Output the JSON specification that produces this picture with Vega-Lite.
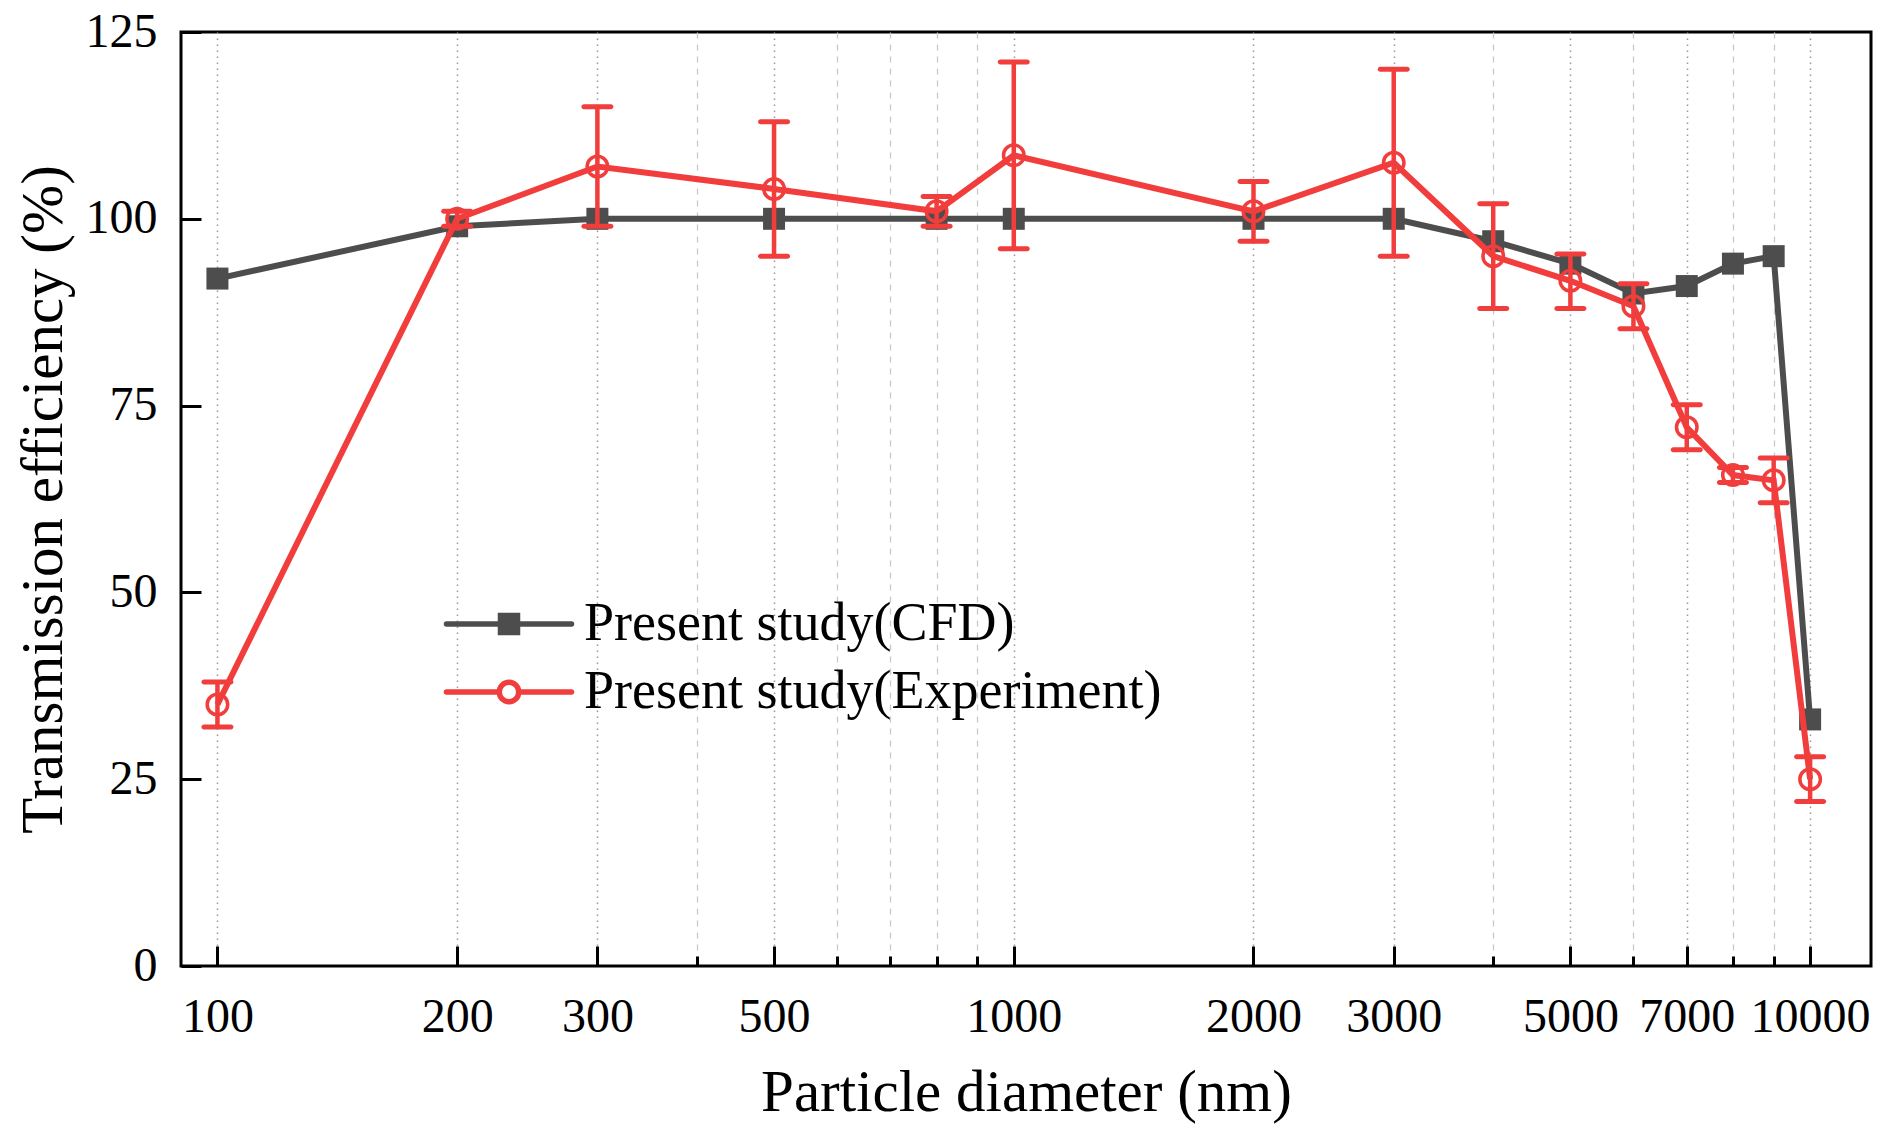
{
  "$schema": "https://vega.github.io/schema/vega-lite/v6.json",
  "width": 1690,
  "height": 934,
  "autosize": {"type": "none"},
  "padding": {"left": 181, "top": 32, "right": 21, "bottom": 176},
  "background": "white",
  "config": {
    "view": {"stroke": "black", "strokeWidth": 3},
    "font": "Liberation Serif",
    "axis": {
      "grid": false,
      "domain": false,
      "tickColor": "black",
      "tickWidth": 3,
      "labelColor": "black",
      "titleColor": "black",
      "labelFont": "Liberation Serif",
      "titleFont": "Liberation Serif",
      "labelFontSize": 48,
      "titleFontSize": 59,
      "titleFontWeight": "normal",
      "labelFlush": false,
      "labelOverlap": false
    }
  },
  "data": {
    "values": [
      {"d": 100, "series": "Present study(CFD)", "value": 92},
      {"d": 200, "series": "Present study(CFD)", "value": 99},
      {"d": 300, "series": "Present study(CFD)", "value": 100},
      {"d": 500, "series": "Present study(CFD)", "value": 100},
      {"d": 800, "series": "Present study(CFD)", "value": 100},
      {"d": 1000, "series": "Present study(CFD)", "value": 100},
      {"d": 2000, "series": "Present study(CFD)", "value": 100},
      {"d": 3000, "series": "Present study(CFD)", "value": 100},
      {"d": 4000, "series": "Present study(CFD)", "value": 97},
      {"d": 5000, "series": "Present study(CFD)", "value": 94},
      {"d": 6000, "series": "Present study(CFD)", "value": 90},
      {"d": 7000, "series": "Present study(CFD)", "value": 91},
      {"d": 8000, "series": "Present study(CFD)", "value": 94},
      {"d": 9000, "series": "Present study(CFD)", "value": 95},
      {"d": 10000, "series": "Present study(CFD)", "value": 33},
      {"d": 100, "series": "Present study(Experiment)", "value": 35, "lo": 32, "hi": 38},
      {"d": 200, "series": "Present study(Experiment)", "value": 100, "lo": 99, "hi": 101},
      {"d": 300, "series": "Present study(Experiment)", "value": 107, "lo": 99, "hi": 115},
      {"d": 500, "series": "Present study(Experiment)", "value": 104, "lo": 95, "hi": 113},
      {"d": 800, "series": "Present study(Experiment)", "value": 101, "lo": 99, "hi": 103},
      {"d": 1000, "series": "Present study(Experiment)", "value": 108.5, "lo": 96, "hi": 121},
      {"d": 2000, "series": "Present study(Experiment)", "value": 101, "lo": 97, "hi": 105},
      {"d": 3000, "series": "Present study(Experiment)", "value": 107.5, "lo": 95, "hi": 120},
      {"d": 4000, "series": "Present study(Experiment)", "value": 95, "lo": 88, "hi": 102},
      {"d": 5000, "series": "Present study(Experiment)", "value": 91.7, "lo": 88, "hi": 95.3},
      {"d": 6000, "series": "Present study(Experiment)", "value": 88.3, "lo": 85.3, "hi": 91.3},
      {"d": 7000, "series": "Present study(Experiment)", "value": 72.1, "lo": 69.1, "hi": 75.1},
      {"d": 8000, "series": "Present study(Experiment)", "value": 65.7, "lo": 64.7, "hi": 66.7},
      {"d": 9000, "series": "Present study(Experiment)", "value": 65, "lo": 62, "hi": 68},
      {"d": 10000, "series": "Present study(Experiment)", "value": 25, "lo": 22, "hi": 28}
    ]
  },
  "resolve": {"axis": {"x": "independent"}},
  "layer": [
    {
      "transform": [{"filter": "datum.series === 'Present study(CFD)'"}],
      "mark": {"type": "line", "strokeWidth": 6},
      "encoding": {
        "x": {
          "field": "d",
          "type": "quantitative",
          "scale": {"type": "log", "domain": [90, 11925], "nice": false},
          "axis": {
            "orient": "bottom",
            "values": [400, 600, 700, 800, 900, 4000, 6000, 8000, 9000],
            "labels": false,
            "offset": -10,
            "tickSize": 10,
            "grid": true,
            "gridColor": "#c8c8c8",
            "gridDash": [6, 6],
            "gridWidth": 1.3,
            "title": null
          }
        },
        "y": {
          "field": "value",
          "type": "quantitative",
          "title": "Transmission efficiency (%)",
          "scale": {"domain": [0, 125], "nice": false},
          "axis": {
            "values": [0, 25, 50, 75, 100, 125],
            "offset": -20,
            "tickSize": 20,
            "labelPadding": 24,
            "titlePadding": 12
          }
        },
        "color": {
          "field": "series",
          "type": "nominal",
          "scale": {
            "domain": ["Present study(CFD)", "Present study(Experiment)"],
            "range": ["#4d4d4d", "#f23d3d"]
          },
          "legend": {
            "orient": "none",
            "legendX": 300,
            "legendY": 564,
            "title": null,
            "padding": 0,
            "labelFont": "Liberation Serif",
            "labelFontSize": 54,
            "labelColor": "black",
            "labelLimit": 1000,
            "labelOffset": 47,
            "rowPadding": 13,
            "symbolSize": 2500,
            "symbolStrokeWidth": 5.5,
            "encode": {
              "symbols": {
                "update": {
                  "shape": [
                    {"test": "datum.value === 'Present study(CFD)'", "value": "M-2.5,0H2.5M-0.34,-0.34H0.34V0.34H-0.34Z"},
                    {"value": "M-2.5,0H-0.39M0.39,0H2.5M0.39,0A0.39,0.39,0,1,1,-0.39,0A0.39,0.39,0,1,1,0.39,0"}
                  ],
                  "fill": [
                    {"test": "datum.value === 'Present study(CFD)'", "value": "#4d4d4d"},
                    {"value": "white"}
                  ],
                  "strokeCap": {"value": "round"}
                }
              }
            }
          }
        }
      }
    },
    {
      "transform": [{"filter": "datum.series === 'Present study(CFD)'"}],
      "mark": {"type": "point", "shape": "square", "filled": true, "size": 484, "color": "#4d4d4d", "opacity": 1},
      "encoding": {
        "x": {"field": "d", "type": "quantitative", "axis": null},
        "y": {"field": "value", "type": "quantitative", "title": "Transmission efficiency (%)"}
      }
    },
    {
      "transform": [{"filter": "datum.series === 'Present study(Experiment)'"}],
      "mark": {"type": "line", "strokeWidth": 6},
      "encoding": {
        "x": {
          "field": "d",
          "type": "quantitative",
          "title": "Particle diameter (nm)",
          "axis": {
            "orient": "bottom",
            "values": [100, 200, 300, 500, 1000, 2000, 3000, 5000, 7000, 10000],
            "format": "d",
            "offset": -20,
            "tickSize": 20,
            "labelPadding": 27,
            "titlePadding": 22,
            "grid": true,
            "gridColor": "#999999",
            "gridDash": [1.5, 4.5],
            "gridWidth": 1.5
          }
        },
        "y": {"field": "value", "type": "quantitative", "title": "Transmission efficiency (%)"},
        "color": {"field": "series", "type": "nominal"}
      }
    },
    {
      "transform": [{"filter": "datum.series === 'Present study(Experiment)'"}],
      "mark": {"type": "rule", "strokeWidth": 4.5, "color": "#f23d3d"},
      "encoding": {
        "x": {"field": "d", "type": "quantitative", "axis": null},
        "y": {"field": "lo", "type": "quantitative", "title": "Transmission efficiency (%)"},
        "y2": {"field": "hi"}
      }
    },
    {
      "transform": [{"filter": "datum.series === 'Present study(Experiment)'"}],
      "mark": {"type": "tick", "orient": "horizontal", "size": 32, "thickness": 5, "cornerRadius": 2.5, "color": "#f23d3d", "opacity": 1},
      "encoding": {
        "x": {"field": "d", "type": "quantitative", "axis": null},
        "y": {"field": "lo", "type": "quantitative", "title": "Transmission efficiency (%)"}
      }
    },
    {
      "transform": [{"filter": "datum.series === 'Present study(Experiment)'"}],
      "mark": {"type": "tick", "orient": "horizontal", "size": 32, "thickness": 5, "cornerRadius": 2.5, "color": "#f23d3d", "opacity": 1},
      "encoding": {
        "x": {"field": "d", "type": "quantitative", "axis": null},
        "y": {"field": "hi", "type": "quantitative", "title": "Transmission efficiency (%)"}
      }
    },
    {
      "transform": [{"filter": "datum.series === 'Present study(Experiment)'"}],
      "mark": {"type": "point", "shape": "circle", "filled": false, "size": 420, "strokeWidth": 3.5, "color": "#f23d3d", "opacity": 1},
      "encoding": {
        "x": {"field": "d", "type": "quantitative", "axis": null},
        "y": {"field": "value", "type": "quantitative", "title": "Transmission efficiency (%)"}
      }
    }
  ]
}
